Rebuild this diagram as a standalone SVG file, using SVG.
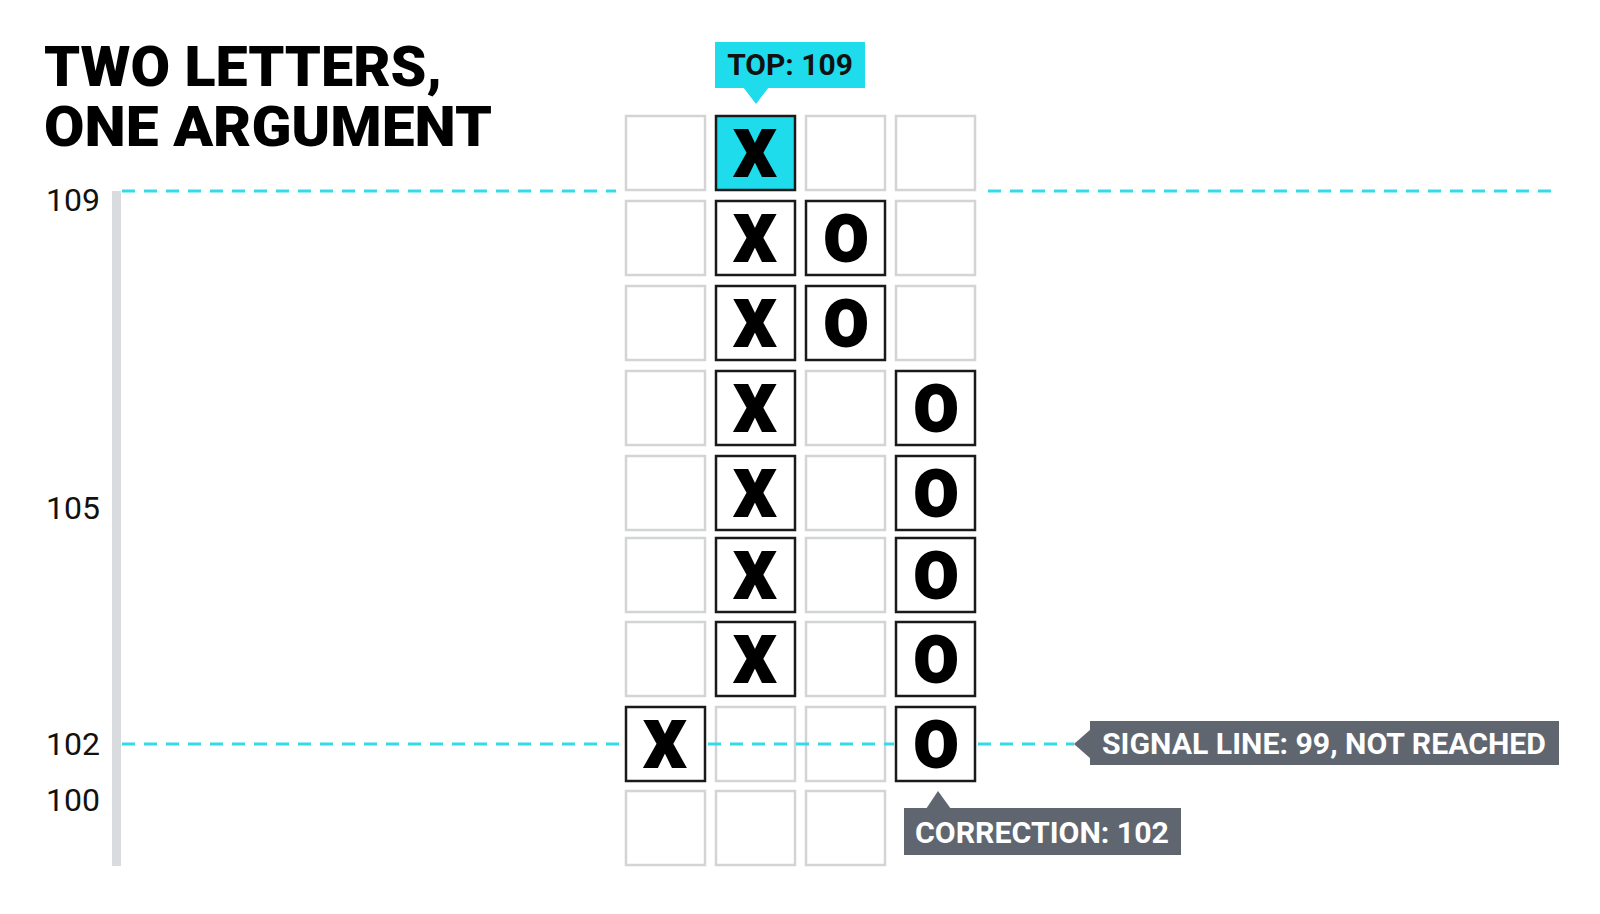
<svg xmlns="http://www.w3.org/2000/svg" width="1600" height="914" viewBox="0 0 1600 914">
<style>
.e{fill:#fff;stroke:#d2d4d6;stroke-width:2.5}
.f{fill:#fff;stroke:#1a1a1a;stroke-width:2.5}
.c{fill:#1fdcec;stroke:#1a1a1a;stroke-width:2.5}
.g{font-family:Roboto,'Liberation Sans',sans-serif;font-weight:900;font-size:64px;text-anchor:middle;fill:#000;stroke:#000;stroke-width:2}
.d{stroke:#33dbe8;stroke-width:3;stroke-dasharray:13 9;fill:none}
.ax{font-family:Roboto,'Liberation Sans',sans-serif;font-size:32px;fill:#111;text-anchor:end}
.lb{font-family:Roboto,'Liberation Sans',sans-serif;font-weight:700;font-size:30px}
</style>
<rect width="1600" height="914" fill="#fff"/>
<g transform="translate(-3,-2)">
<text x="47" y="88" font-family="Roboto,'Liberation Sans',sans-serif" font-weight="900" font-size="56" fill="#000" textLength="398" lengthAdjust="spacingAndGlyphs">TWO LETTERS,</text>
<text x="47" y="148" font-family="Roboto,'Liberation Sans',sans-serif" font-weight="900" font-size="56" fill="#000" textLength="448" lengthAdjust="spacingAndGlyphs">ONE ARGUMENT</text>
<rect x="115" y="193" width="9" height="675" fill="#d9dbde"/>
<text class="ax" x="103" y="213">109</text>
<text class="ax" x="103" y="521">105</text>
<text class="ax" x="103" y="757">102</text>
<text class="ax" x="103" y="813">100</text>
<g id="grid">
<rect class="e" x="629" y="118" width="79" height="74"/><rect class="c" x="719" y="118" width="79" height="74"/><rect class="e" x="809" y="118" width="79" height="74"/><rect class="e" x="899" y="118" width="79" height="74"/>
<rect class="e" x="629" y="203" width="79" height="74"/><rect class="f" x="719" y="203" width="79" height="74"/><rect class="f" x="809" y="203" width="79" height="74"/><rect class="e" x="899" y="203" width="79" height="74"/>
<rect class="e" x="629" y="288" width="79" height="74"/><rect class="f" x="719" y="288" width="79" height="74"/><rect class="f" x="809" y="288" width="79" height="74"/><rect class="e" x="899" y="288" width="79" height="74"/>
<rect class="e" x="629" y="373" width="79" height="74"/><rect class="f" x="719" y="373" width="79" height="74"/><rect class="e" x="809" y="373" width="79" height="74"/><rect class="f" x="899" y="373" width="79" height="74"/>
<rect class="e" x="629" y="458" width="79" height="74"/><rect class="f" x="719" y="458" width="79" height="74"/><rect class="e" x="809" y="458" width="79" height="74"/><rect class="f" x="899" y="458" width="79" height="74"/>
<rect class="e" x="629" y="540" width="79" height="74"/><rect class="f" x="719" y="540" width="79" height="74"/><rect class="e" x="809" y="540" width="79" height="74"/><rect class="f" x="899" y="540" width="79" height="74"/>
<rect class="e" x="629" y="624" width="79" height="74"/><rect class="f" x="719" y="624" width="79" height="74"/><rect class="e" x="809" y="624" width="79" height="74"/><rect class="f" x="899" y="624" width="79" height="74"/>
<rect class="f" x="629" y="709" width="79" height="74"/><rect class="e" x="719" y="709" width="79" height="74"/><rect class="e" x="809" y="709" width="79" height="74"/><rect class="f" x="899" y="709" width="79" height="74"/>
<rect class="e" x="629" y="793" width="79" height="74"/><rect class="e" x="719" y="793" width="79" height="74"/><rect class="e" x="809" y="793" width="79" height="74"/>
</g>
<g id="marks">
<text class="g" x="758" y="178">X</text>
<text class="g" x="758" y="263">X</text><text class="g" x="849" y="263">O</text>
<text class="g" x="758" y="348">X</text><text class="g" x="849" y="348">O</text>
<text class="g" x="758" y="433">X</text><text class="g" x="939" y="433">O</text>
<text class="g" x="758" y="518">X</text><text class="g" x="939" y="518">O</text>
<text class="g" x="758" y="600">X</text><text class="g" x="939" y="600">O</text>
<text class="g" x="758" y="684">X</text><text class="g" x="939" y="684">O</text>
<text class="g" x="668" y="769">X</text><text class="g" x="939" y="769">O</text>
</g>
<g id="lines">
<path class="d" d="M125 193H619M991 193H1562"/>
<path class="d" d="M125 746H627M711 746H897M981 746H1077"/>
</g>
<g id="top-label">
<rect x="718" y="44" width="150" height="46" fill="#1fdcec"/>
<path d="M746 89L759 106L772 89Z" fill="#1fdcec"/>
<text class="lb" x="793" y="77" text-anchor="middle" fill="#111" font-size="28">TOP: 109</text>
</g>
<g id="signal-label">
<rect x="1093" y="723" width="469" height="44" fill="#5f6670"/>
<path d="M1094 731L1077 746L1094 761Z" fill="#5f6670"/>
<text class="lb" x="1105" y="756" fill="#fff" textLength="444" lengthAdjust="spacingAndGlyphs">SIGNAL LINE: 99, NOT REACHED</text>
</g>
<g id="correction-label">
<rect x="907" y="810" width="277" height="47" fill="#5f6670"/>
<path d="M929 811L941 793L954 811Z" fill="#5f6670"/>
<text class="lb" x="918" y="845" fill="#fff" textLength="254" lengthAdjust="spacingAndGlyphs">CORRECTION: 102</text>
</g>
</g>
</svg>
